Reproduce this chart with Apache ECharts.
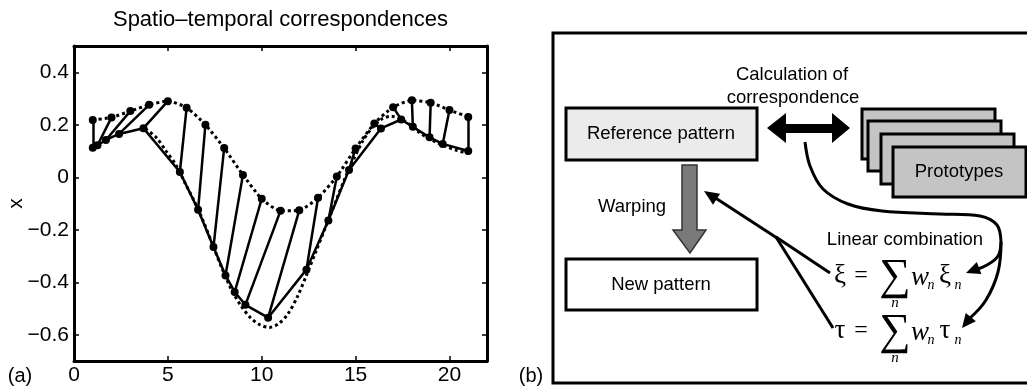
<!DOCTYPE html>
<html><head><meta charset="utf-8">
<script src="https://cdn.jsdelivr.net/npm/echarts@6/dist/echarts.min.js"></script>
<style>html,body{margin:0;padding:0;background:#fff}#c{width:1027px;height:386px}</style>
</head><body><div id="c"></div>
<script>
// ---- data (panel a) ----
const refX = [1,2,3,4,5,6,7,8,9,10,11,12,13,14,15,16,17,18,19,20,21];
const refY = [0.218,0.228,0.252,0.276,0.29,0.265,0.2,0.111,0.009,-0.082,-0.128,-0.126,-0.078,0.003,0.11,0.205,0.267,0.293,0.284,0.256,0.23];
const warpX = [1,1.25,1.7,2.4,3.7,5.64,6.61,7.43,8.07,8.56,9.13,10.34,12.38,13.55,14.65,16.35,17.43,18.05,18.94,19.64,21];
const warpY = [0.112,0.122,0.142,0.165,0.187,0.02,-0.124,-0.266,-0.374,-0.437,-0.486,-0.535,-0.352,-0.165,0.028,0.186,0.22,0.192,0.152,0.127,0.1];
const targetX = [3.8,4.4,4.9,5.4,5.9,6.4,6.9,7.4,7.9,8.4,8.9,9.4,9.9,10.4,10.9,11.4,11.9,12.4,12.9,13.4,13.9,14.4,14.9,15.4,15.9,16.4,16.9,17.4,17.9,18.4,18.9,19.4,19.9,20.4,21];
const targetY = [0.185,0.15,0.1,0.05,-0.02,-0.09,-0.17,-0.26,-0.35,-0.43,-0.49,-0.535,-0.562,-0.572,-0.558,-0.52,-0.455,-0.37,-0.28,-0.19,-0.1,-0.01,0.07,0.14,0.19,0.222,0.232,0.222,0.2,0.17,0.148,0.13,0.115,0.102,0.09];
const xTicks = [0,5,10,15,20];
const yTicks = [-0.6,-0.4,-0.2,0,0.2,0.4];
const titleText = 'Spatio\u2013temporal correspondences';
const yName = 'x';

// ---- labels (panel b) ----
const boxRef = 'Reference pattern';
const boxNew = 'New pattern';
const boxProto = 'Prototypes';
const lblCalc1 = 'Calculation of';
const lblCalc2 = 'correspondence';
const lblWarp = 'Warping';
const lblLin = 'Linear combination';

const SANS = '"Liberation Sans", Arial, sans-serif';
const SERIF = '"Liberation Serif", "DejaVu Serif", serif';

function fmtY(v){ if (Math.abs(v) < 1e-9) return '0'; return v.toFixed(1).replace('-', '\u2212'); }
function fmtX(v){ return String(Math.round(v)); }
const pts = (xs, ys) => xs.map((x,i)=>[x, ys[i]]);

const axisCommon = {
  axisLine: {show:true, onZero:false, lineStyle:{color:'#000', width:3}},
  splitLine: {show:false}
};
function xAx(pos, labels){
  return Object.assign({type:'value', min:0, max:22, position:pos,
    axisTick:{show:true, inside:true, length:5, lineStyle:{color:'#000', width:1.5}, customValues:xTicks},
    axisLabel:{show:labels, customValues:xTicks, fontSize:21, fontFamily:SANS, color:'#000', margin:4, formatter:fmtX}
  }, axisCommon);
}
function yAx(pos, labels){
  return Object.assign({type:'value', min:-0.7, max:0.5, position:pos,
    name: labels ? yName : '', nameLocation:'middle', nameGap:47, nameRotate:90, nameMoveOverlap:false,
    nameTextStyle:{fontSize:21, fontFamily:SANS, color:'#000'},
    axisTick:{show:true, inside:true, length:5, lineStyle:{color:'#000', width:1.5}, customValues:yTicks},
    axisLabel:{show:labels, customValues:yTicks, fontSize:21, fontFamily:SANS, color:'#000', margin:5, formatter:fmtY}
  }, axisCommon);
}

// ---- helpers for the diagram ----
function txt(x,y,t,font,extra){ return Object.assign({type:'text', x:x, y:y, z:10, style:{text:t, fill:'#000', font:font, align:'center', verticalAlign:'middle'}}, extra||{}); }
function rect(x,y,w,h,fill){ return {type:'rect', shape:{x:x,y:y,width:w,height:h}, style:{fill:fill, stroke:'#000', lineWidth:3}}; }
function head(tip, from, len, wid){
  const dx = tip[0]-from[0], dy = tip[1]-from[1], L = Math.hypot(dx,dy);
  const ux = dx/L, uy = dy/L, bx = tip[0]-ux*len, by = tip[1]-uy*len, px = -uy*wid/2, py = ux*wid/2;
  return {type:'polygon', shape:{points:[tip,[bx+px,by+py],[bx-px,by-py]]}, style:{fill:'#000'}};
}
function curve(points, smooth){ return {type:'polyline', shape:{points:points, smooth:smooth||0}, style:{stroke:'#000', lineWidth:3, fill:null, lineJoin:'round'}}; }

const g = [];
const LBL = '18.5px ' + SANS;
// labels (a)(b)
g.push(txt(20,376,'(a)','20px '+SANS));
g.push(txt(531,376,'(b)','20px '+SANS));
// title
g.push(txt(280.5,20,titleText,'22px '+SANS));
// outer frame b
g.push({type:'rect', shape:{x:553,y:33,width:480,height:350}, style:{fill:null, stroke:'#000', lineWidth:3}});
// boxes
g.push(rect(566,108,191,52,'#ebebeb'));
g.push(txt(661,134,boxRef,LBL));
g.push(rect(566,259,191,51,'#fff'));
g.push(txt(661,285,boxNew,LBL));
[[862,109],[868,121],[881,134],[893,147]].forEach(p=>g.push(rect(p[0],p[1],133,50,'#c4c4c4')));
g.push(txt(959,172,boxProto,LBL));
// calc label
g.push(txt(792,75,lblCalc1,LBL));
g.push(txt(793,98,lblCalc2,LBL));
// double arrow
g.push({type:'polygon', shape:{points:[[767,128],[786,113],[786,124],[832,124],[832,113],[850,128],[832,143],[832,133],[786,133],[786,143]]}, style:{fill:'#000'}});
// warping arrow
g.push({type:'polygon', shape:{points:[[682,165],[697,165],[697,230],[706,230],[690,253],[673,230],[682,230]]}, style:{fill:'#7a7a7a', stroke:'#333', lineWidth:1.5}});
g.push(txt(632,207,lblWarp,LBL));
// linear combination label
g.push(txt(905,240,lblLin,LBL));
// big curved arrow from correspondence to formulas
g.push(curve([[805,142],[810,166],[823,189],[848,204],[882,211],[940,214],[980,216],[997,225],[1001,242]],0.35));
g.push(curve([[1001,242],[998,256],[987,265],[975,270]],0.4));
g.push(head([966,273],[987,265],14,13));
g.push(curve([[1001,242],[998,272],[986,300],[970,318]],0.4));
g.push(head([962,328],[975,312],14,13));
// Y-shaped arrow to reference pattern
g.push(curve([[830,273],[776,237]]));
g.push(curve([[833,328],[776,237]]));
g.push(curve([[777,238],[714,197]]));
g.push(head([704,191],[730,208],15,13));
// formulas
function formula(y, sym, symN){
  const it = 'italic ';
  g.push(txt(840,y,sym,'27px '+SERIF));
  g.push(txt(861,y,'=','24px '+SERIF));
  g.push(txt(895,y+1,'\u2211','44px '+SERIF));
  g.push(txt(895,y+27,'n',it+'15px '+SERIF));
  g.push(txt(920,y+2,'w',it+'27px '+SERIF));
  g.push(txt(931,y+9,'n',it+'14px '+SERIF));
  g.push(txt(945,y,symN,'27px '+SERIF));
  g.push(txt(958,y+9,'n',it+'14px '+SERIF));
}
formula(276,'\u03BE','\u03BE');
formula(331,'\u03C4','\u03C4');

const chart = echarts.init(document.getElementById('c'), null, {renderer:'canvas'});
chart.setOption({
  animation:false,
  backgroundColor:'#fff',
  grid:{left:74, top:46, width:413, height:317, containLabel:false},
  xAxis:[xAx('bottom',true), xAx('top',false)],
  yAxis:[yAx('left',true), yAx('right',false)],
  series:[
    {type:'line', name:'target', data:pts(targetX,targetY), showSymbol:false, symbol:'none', smooth:0.3,
     lineStyle:{color:'#000', width:3, type:[3,3], cap:'butt'}, z:2},
    {type:'line', name:'reference', data:pts(refX,refY), symbol:'circle', symbolSize:8, smooth:0.2,
     itemStyle:{color:'#000'}, lineStyle:{color:'#000', width:3, type:[3,3], cap:'butt'}, z:3},
    {type:'line', name:'warped', data:pts(warpX,warpY), symbol:'circle', symbolSize:8,
     itemStyle:{color:'#000'}, lineStyle:{color:'#000', width:2.5}, z:4},
    {type:'lines', coordinateSystem:'cartesian2d', polyline:false, z:4,
     data: refX.map((x,i)=>({coords:[[x,refY[i]],[warpX[i],warpY[i]]]})),
     lineStyle:{color:'#000', width:2.5, opacity:1}}
  ],
  graphic: g
});
</script>
</body></html>
